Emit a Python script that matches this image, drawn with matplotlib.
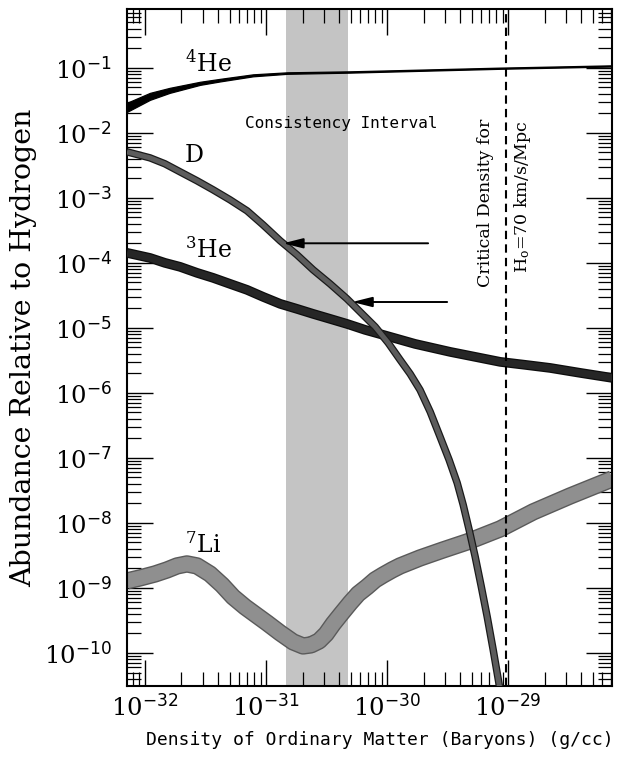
import numpy as np
import matplotlib.pyplot as plt
from matplotlib.ticker import LogLocator, FixedLocator, NullFormatter, FuncFormatter

plt.rcParams['font.family'] = 'DejaVu Serif'
plt.rcParams['mathtext.fontset'] = 'custom'
plt.rcParams['mathtext.rm'] = 'DejaVu Serif'
plt.rcParams['mathtext.it'] = 'DejaVu Serif:italic'
plt.rcParams['mathtext.sf'] = 'DejaVu Sans'

# baryon density (g/cc) and abundance relative to hydrogen
dens_he4 = [7.1e-33, 1.1e-32, 1.6e-32, 2.85e-32, 4.2e-32, 7.8e-32, 1.5e-31,
            4.9e-31, 1.3e-30, 8.6e-30, 7.2e-29]
he4_lo = [0.0210, 0.0322, 0.0412, 0.0547, 0.0619, 0.0740, 0.0809,
          0.0843, 0.0883, 0.0966, 0.1047]
he4_hi = [0.0290, 0.0412, 0.0492, 0.0610, 0.0678, 0.0794, 0.0853,
          0.0883, 0.0923, 0.1007, 0.1092]

dens_d = [7.10e-33, 1.10e-32, 1.46e-32, 1.95e-32, 2.69e-32, 3.65e-32, 5.04e-32,
          6.97e-32, 9.45e-32, 1.31e-31, 1.80e-31, 2.45e-31, 3.38e-31, 4.67e-31,
          6.10e-31, 7.96e-31, 1.02e-30, 1.28e-30, 1.55e-30, 1.87e-30, 2.27e-30,
          2.74e-30, 3.25e-30, 3.79e-30, 4.25e-30, 4.76e-30, 5.34e-30, 5.98e-30,
          6.71e-30, 7.52e-30, 8.43e-30, 9.45e-30]
d_abund = [5.10e-3, 4.12e-3, 3.34e-3, 2.51e-3, 1.83e-3, 1.33e-3, 9.32e-4,
           6.31e-4, 3.84e-4, 2.18e-4, 1.33e-4, 7.80e-5, 4.75e-5, 2.79e-5,
           1.70e-5, 1.04e-5, 5.88e-6, 3.22e-6, 1.96e-6, 1.11e-6, 5.10e-7,
           2.10e-7, 9.32e-8, 4.12e-8, 1.89e-8, 7.80e-9, 3.00e-9, 1.07e-9,
           3.58e-10, 1.11e-10, 3.22e-11, 9.32e-12]

dens_he3 = [7.10e-33, 1.10e-32, 1.46e-32, 1.95e-32, 2.69e-32, 3.65e-32, 5.04e-32,
            6.97e-32, 9.45e-32, 1.31e-31, 1.80e-31, 2.45e-31, 3.38e-31, 4.67e-31,
            6.58e-31, 9.27e-31, 1.70e-30, 3.32e-30, 5.34e-30, 8.59e-30, 1.38e-29,
            2.22e-29, 3.94e-29, 7.24e-29]
he3_abund = [1.425e-4, 1.19e-4, 1.00e-4, 8.68e-5, 7.02e-5, 5.88e-5, 4.75e-5,
             3.84e-5, 3.00e-5, 2.34e-5, 1.96e-5, 1.64e-5, 1.375e-5, 1.15e-5,
             9.32e-6, 7.80e-6, 5.67e-6, 4.27e-6, 3.58e-6, 3.00e-6, 2.70e-6,
             2.42e-6, 2.03e-6, 1.70e-6]

dens_li = [7.10e-33, 9.09e-33, 1.21e-32, 1.52e-32, 1.84e-32, 2.22e-32, 2.69e-32,
           3.44e-32, 4.33e-32, 5.34e-32, 6.71e-32, 8.27e-32, 1.02e-31, 1.31e-31,
           1.67e-31, 2.02e-31, 2.35e-31, 2.74e-31, 3.13e-31, 3.58e-31, 4.17e-31,
           4.95e-31, 5.76e-31, 6.83e-31, 7.96e-31, 9.27e-31, 1.10e-30, 1.28e-30,
           1.87e-30, 2.90e-30, 4.58e-30, 8.59e-30, 1.61e-29, 3.25e-29, 7.24e-29]
li_abund = [1.28e-9, 1.425e-9, 1.64e-9, 1.89e-9, 2.18e-9, 2.34e-9, 2.18e-9,
            1.64e-9, 1.11e-9, 7.27e-10, 5.10e-10, 3.84e-10, 2.89e-10, 2.03e-10,
            1.48e-10, 1.28e-10, 1.33e-10, 1.53e-10, 1.96e-10, 2.79e-10, 3.98e-10,
            5.88e-10, 8.09e-10, 1.04e-9, 1.33e-9, 1.58e-9, 1.89e-9, 2.18e-9,
            2.89e-9, 3.84e-9, 5.10e-9, 8.09e-9, 1.48e-8, 2.60e-8, 4.75e-8]

consistency = (1.46e-31, 4.76e-31)
rho_crit = 9.5e-30
x_decades = [1e-32, 1e-31, 1e-30, 1e-29]
y_decades = [1e-10, 1e-9, 1e-8, 1e-7, 1e-6, 1e-5, 1e-4, 1e-3, 1e-2, 1e-1]

fig = plt.figure(figsize=(6.21, 7.63), dpi=100)
ax = fig.add_axes([0.2045, 0.1009, 0.781, 0.8867])
ax.set_xscale('log')
ax.set_yscale('log')
ax.set_xlim(7.1e-33, 7.2e-29)
ax.set_ylim(3.1e-11, 0.79)

ax.axvspan(*consistency, color='#c4c4c4', lw=0, zorder=0.5)

ax.fill_between(dens_he4, he4_lo, he4_hi, facecolor='k', edgecolor='k',
                lw=0.9, zorder=2)
band = dict(solid_joinstyle='round', solid_capstyle='butt')
ax.plot(dens_li, li_abund, color='#5a5a5a', lw=12.5, zorder=2, **band)
ax.plot(dens_li, li_abund, color='#8f8f8f', lw=10.5, zorder=2, **band)
ax.plot(dens_he3, he3_abund, color='#0d0d0d', lw=7.0, zorder=3, **band)
ax.plot(dens_he3, he3_abund, color='#262626', lw=5.2, zorder=3, **band)
ax.plot(dens_d, d_abund, color='#1a1a1a', lw=5.4, zorder=4, **band)
ax.plot(dens_d, d_abund, color='#5c5c5c', lw=3.6, zorder=4, **band)

ax.axvline(rho_crit, color='k', lw=1.5, ls=(0, (4, 2.5)), zorder=5)

# arrows marking the deuterium values inside the interval
arrow = dict(arrowstyle='-|>,head_length=0.6,head_width=0.15', color='k',
             lw=1.4, mutation_scale=20, shrinkA=0, shrinkB=0)
ax.annotate('', xy=(1.38e-31, 2.0e-4), xytext=(2.18e-30, 2.0e-4), arrowprops=arrow, zorder=6)
ax.annotate('', xy=(5.14e-31, 2.5e-5), xytext=(3.13e-30, 2.5e-5), arrowprops=arrow, zorder=6)

lab = dict(fontsize=17, va='baseline', ha='left')
ax.text(2.14e-32, 8.7e-2, r'$^{4}$He', **lab)
ax.text(2.14e-32, 3.58e-3, 'D', **lab)
ax.text(2.14e-32, 1.19e-4, r'$^{3}$He', **lab)
ax.text(2.14e-32, 3.45e-9, r'$^{7}$Li', **lab)

ax.text(6.7e-32, 1.19e-2, 'Consistency Interval', family='DejaVu Sans Mono',
        fontsize=11.5, va='baseline', ha='left')
ax.text(6.45e-30, 8.4e-4, 'Critical Density for', rotation=90,
        fontsize=12.5, ha='center', va='center')
ax.text(1.31e-29, 1.04e-3, r'H$_{\mathrm{o}}$=70 km/s/Mpc', rotation=90,
        fontsize=12.5, ha='center', va='center')

ax.xaxis.set_major_locator(FixedLocator(x_decades))
ax.yaxis.set_major_locator(FixedLocator(y_decades))
for axis in (ax.xaxis, ax.yaxis):
    axis.set_minor_locator(LogLocator(base=10, subs=np.arange(2, 10), numticks=30))
    axis.set_minor_formatter(NullFormatter())
    axis.set_major_formatter(FuncFormatter(
        lambda v, pos: r'$10^{\mathsf{%d}}$' % int(round(np.log10(v)))))

ax.tick_params(which='both', direction='in', top=True, right=True)
ax.tick_params(which='major', length=19, width=1.0, labelsize=17.5)
ax.tick_params(axis='y', which='major', pad=11)
ax.tick_params(axis='x', which='major', pad=6)
ax.tick_params(which='minor', length=10, width=0.9)
for s in ax.spines.values():
    s.set_linewidth(1.5)

ax.set_ylabel('Abundance Relative to Hydrogen', fontsize=20.5)
ax.yaxis.set_label_coords(-0.185, 0.5)
ax.set_xlabel('Density of Ordinary Matter (Baryons) (g/cc)',
              family='DejaVu Sans Mono', fontsize=13)
ax.xaxis.set_label_coords(0.522, -0.066)

fig.savefig('out.png', dpi=100)
